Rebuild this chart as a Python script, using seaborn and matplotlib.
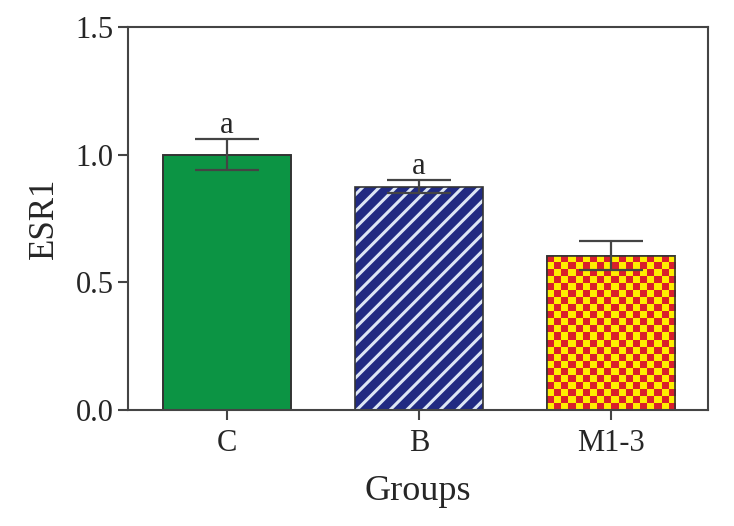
import numpy as np
import pandas as pd
import matplotlib
matplotlib.use("Agg")
import matplotlib.pyplot as plt
import seaborn as sns
from matplotlib.colors import ListedColormap
from matplotlib.patches import Rectangle

# values
groups = ["C", "B", "M1-3"]
esr1 = [1.0, 0.875, 0.605]
sem = [0.06, 0.025, 0.057]
letters = ["a", "a", ""]
bar_colors = ["#0c9444", "#212a82", "#ffee00"]

sns.set_style("ticks")
plt.rcParams["font.family"] = ["Liberation Serif", "DejaVu Serif"]
plt.rcParams["hatch.linewidth"] = 2.2

df = pd.DataFrame({"Groups": groups, "ESR1": esr1})

fig = plt.figure(figsize=(7.34, 5.26), dpi=100)
ax = fig.add_axes([0.1744, 0.2205, 0.7902, 0.7282])

sns.barplot(data=df, x="Groups", y="ESR1", hue="Groups", palette=bar_colors,
            legend=False, width=0.67, edgecolor="#333333", linewidth=1.2,
            errorbar=None, saturation=1, ax=ax)

ax.set_xlim(-0.515, 2.505)
ax.set_ylim(0, 1.5)
ax.set_yticks([0, 0.5, 1.0, 1.5])
ax.set_yticklabels(["0.0", "0.5", "1.0", "1.5"])

fig.canvas.draw()
bars = list(ax.patches)

# striped B bar: white hatch, then dark outline on top
b = bars[1]
b.set_hatch("//")
b.set_edgecolor("#dde6f5")
b.set_linewidth(0)

# checkered M1-3 bar: image clipped to the bar
m = bars[2]
ext = m.get_window_extent()
ncol = 18
nrow = int(round(ext.height / (ext.width / ncol)))
board = np.indices((nrow, ncol)).sum(axis=0) % 2
bx, by = m.get_x(), m.get_y()
bw, bh = m.get_width(), m.get_height()
im = ax.imshow(board, cmap=ListedColormap(["#d91f2b", "#ffee00"]),
               extent=(bx, bx + bw, by, by + bh), aspect="auto",
               interpolation="nearest", zorder=m.get_zorder() + 0.1)
im.set_clip_path(m)

for p in bars:
    ax.add_patch(Rectangle((p.get_x(), p.get_y()), p.get_width(), p.get_height(),
                           fill=False, edgecolor="#333333", linewidth=1.2,
                           zorder=p.get_zorder() + 0.2))

ax.errorbar(x=range(len(groups)), y=esr1, yerr=sem, fmt="none",
            ecolor="#444444", elinewidth=1.6, capsize=23, capthick=1.6, zorder=5)

for i, (v, e, t) in enumerate(zip(esr1, sem, letters)):
    if t:
        ax.text(i, v + e + 0.025, t, ha="center", va="baseline", fontsize=22)

ax.set_aspect("auto")
ax.set_xlim(-0.515, 2.505)
ax.set_ylim(0, 1.5)

for s in ax.spines.values():
    s.set_visible(True)
    s.set_color("#444444")
    s.set_linewidth(1.5)

ax.tick_params(axis="both", direction="out", length=7, width=1.5,
               color="#444444", labelsize=22)
ax.tick_params(axis="x", pad=7)
ax.tick_params(top=False, right=False)
ax.set_xlabel("Groups", fontsize=26, labelpad=12)
ax.set_ylabel("ESR1", fontsize=25, labelpad=10)

fig.savefig("out.png", dpi=100)
